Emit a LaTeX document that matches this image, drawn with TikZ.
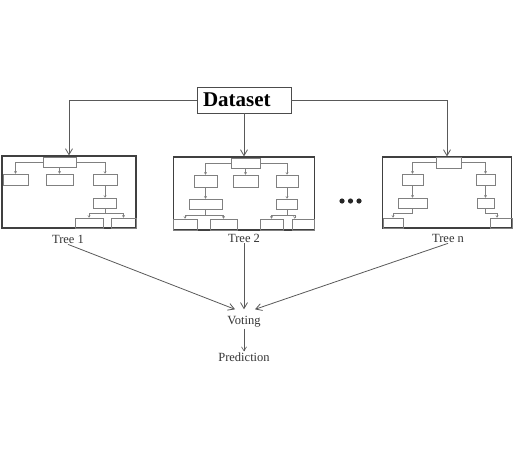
\documentclass[tikz,border=0pt]{standalone}
\usepackage{fontspec}
\setmainfont{Liberation Serif}
\usetikzlibrary{arrows.meta}
\tikzset{
  box/.style={draw=black!70, line width=0.9pt, inner sep=0pt},
  treebox/.style={draw=black!75, line width=1.1pt, inner sep=0pt},
  leaf/.style={draw=black!50, line width=0.5pt, inner sep=0pt},
  link/.style={draw=black!65, line width=0.8pt, -{Straight Barb[length=6pt,width=7pt]}},
  sublink/.style={draw=black!50, line width=0.5pt, -{Straight Barb[length=2pt,width=2.5pt]}},
  lab/.style={font=\fontsize{12.5}{14}\selectfont, text=black!80, inner sep=1pt}
}
\begin{document}
\begin{tikzpicture}[x=1pt, y=-1pt]
  \useasboundingbox (0,0) rectangle (513,449);
  \node[box, text width=82pt, align=left, inner xsep=6pt, minimum height=26pt,
    font=\fontsize{21}{24}\selectfont\bfseries] (data) at (244,100) {Dataset};

  % trees
  \node[treebox, minimum width=134pt, minimum height=72pt] (tree1) at (69,192) {};
  \node[treebox, minimum width=141pt, minimum height=73pt] (tree2) at (244,193.5) {};
  \node[treebox, minimum width=129pt, minimum height=71pt] (treen) at (447,192.5) {};
  \draw[link] (data.west) -| (tree1.north);
  \draw[link] (data.south) -- (tree2.north);
  \draw[link] (data.east) -| (treen.north);

  % tree 1
  \node[leaf, minimum width=33pt, minimum height=10pt] (t1r) at (59.5,162) {};
  \node[leaf, minimum width=25pt, minimum height=11pt] (t1a) at (15.5,179.5) {};
  \node[leaf, minimum width=27pt, minimum height=11pt] (t1b) at (59.5,179.5) {};
  \node[leaf, minimum width=24pt, minimum height=11pt] (t1c) at (105,179.5) {};
  \node[leaf, minimum width=23pt, minimum height=10pt] (t1d) at (105,203) {};
  \node[leaf, minimum width=28pt, minimum height=10pt] (t1e) at (89,223) {};
  \node[leaf, minimum width=25pt, minimum height=10pt] (t1f) at (123.5,223) {};
  \draw[sublink] (t1r.west) -| (t1a.north);
  \draw[sublink] (t1r.south) -- (t1b.north);
  \draw[sublink] (t1r.east) -| (t1c.north);
  \draw[sublink] (t1c.south) -- (t1d.north);
  \draw[sublink] (t1d.south) -- ++(0,5) -| (t1e.north);
  \draw[sublink] (t1d.south) -- ++(0,5) -| (t1f.north);

  % tree 2
  \node[leaf, minimum width=29pt, minimum height=10pt] (t2r) at (245.5,163) {};
  \node[leaf, minimum width=23pt, minimum height=12pt] (t2a) at (205.5,181) {};
  \node[leaf, minimum width=25pt, minimum height=12pt] (t2b) at (245.5,181) {};
  \node[leaf, minimum width=22pt, minimum height=12pt] (t2c) at (287,181) {};
  \node[leaf, minimum width=33pt, minimum height=10pt] (t2d) at (205.5,204) {};
  \node[leaf, minimum width=21pt, minimum height=10pt] (t2e) at (287,204) {};
  \node[leaf, minimum width=24pt, minimum height=11pt] (t2f) at (185,224.5) {};
  \node[leaf, minimum width=27pt, minimum height=11pt] (t2g) at (223.5,224.5) {};
  \node[leaf, minimum width=23pt, minimum height=11pt] (t2h) at (271.5,224.5) {};
  \node[leaf, minimum width=22pt, minimum height=11pt] (t2i) at (303,224.5) {};
  \draw[sublink] (t2r.west) -| (t2a.north);
  \draw[sublink] (t2r.south) -- (t2b.north);
  \draw[sublink] (t2r.east) -| (t2c.north);
  \draw[sublink] (t2a.south) -- (t2d.north);
  \draw[sublink] (t2c.south) -- (t2e.north);
  \draw[sublink] (t2d.south) -- ++(0,6) -| (t2f.north);
  \draw[sublink] (t2d.south) -- ++(0,6) -| (t2g.north);
  \draw[sublink] (t2e.south) -- ++(0,6) -| (t2h.north);
  \draw[sublink] (t2e.south) -- ++(0,6) -| ([xshift=3pt]t2i.north west);

  % tree n
  \node[leaf, minimum width=25pt, minimum height=11pt] (tnr) at (448.5,162.5) {};
  \node[leaf, minimum width=21pt, minimum height=11pt] (tna) at (412.5,179.5) {};
  \node[leaf, minimum width=19pt, minimum height=11pt] (tnb) at (485.5,179.5) {};
  \node[leaf, minimum width=29pt, minimum height=10pt] (tnc) at (412.5,203) {};
  \node[leaf, minimum width=17pt, minimum height=10pt] (tnd) at (485.5,203) {};
  \node[leaf, minimum width=20pt, minimum height=10pt] (tne) at (393,223) {};
  \node[leaf, minimum width=22pt, minimum height=10pt] (tnf) at (501,223) {};
  \draw[sublink] (tnr.west) -| (tna.north);
  \draw[sublink] (tnr.east) -| (tnb.north);
  \draw[sublink] (tna.south) -- (tnc.north);
  \draw[sublink] (tnb.south) -- (tnd.north);
  \draw[sublink] (tnc.south) -- ++(0,5) -| (tne.north);
  \draw[sublink] (tnd.south) -- ++(0,5) -| ([xshift=-4pt]tnf.north);

  % dots
  \fill[black!85] (342,201) circle (2.6) (350.5,201) circle (2.6) (359,201) circle (2.6);

  % labels and voting
  \node[lab] (lab1) at (68,239) {Tree 1};
  \node[lab] (lab2) at (244,238) {Tree 2};
  \node[lab] (labn) at (448,238) {Tree n};
  \node[lab] (vote) at (244,322) {Voting};
  \node[lab] (pred) at (244,357) {Prediction};
  \draw[link] (lab1.south) -- ([xshift=-9pt,yshift=6pt]vote.north);
  \draw[link] (lab2.south) -- ([yshift=6pt]vote.north);
  \draw[link] (labn.south) -- ([xshift=11pt,yshift=6pt]vote.north);
  \draw[link, line width=0.6pt, -{Straight Barb[length=4pt,width=5pt]}] (vote.south) -- (pred.north);
\end{tikzpicture}
\end{document}
